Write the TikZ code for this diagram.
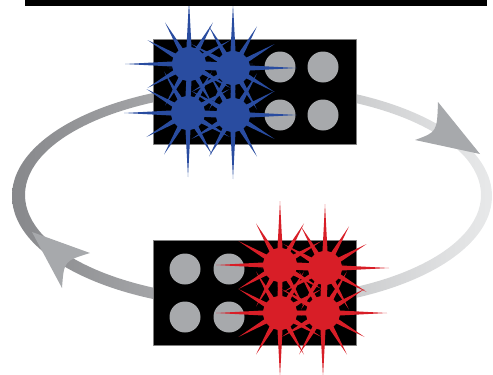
\documentclass[tikz,border=0pt]{standalone}
\usepackage{tikz}
\usetikzlibrary{calc}
\definecolor{burstblue}{RGB}{41,76,160}
\definecolor{burstred}{RGB}{216,30,39}
\definecolor{wellgray}{RGB}{167,169,172}
\definecolor{ringdark}{RGB}{135,136,139}
\definecolor{ringlight}{RGB}{232,233,234}
\definecolor{edgegray}{RGB}{128,128,128}
\tikzset{plate/.style={fill=black,draw=edgegray,line width=0.6pt},
  well/.style={fill=wellgray},
  arrowhead/.style={fill=wellgray}}
\newcommand{\burst}[3]{%
  \fill[#3] (#1,#2) circle (17);
  \foreach \a in {0,30,...,330}{
    \pgfmathsetmacro{\len}{mod(\a,90)==0 ? 64 : 48}
    \fill[#3] ($(#1,#2)+(\a-15:11)$) -- ($(#1,#2)+(\a:\len)$) -- ($(#1,#2)+(\a+15:11)$) -- cycle;
  }}

\begin{document}
\begin{tikzpicture}[line cap=round,line join=round,x=1pt,y=-1pt]
        \useasboundingbox (0,0) rectangle (493,375);
        \shade[left color=ringdark,right color=ringlight,even odd rule] (252,196) ellipse (240 and 113) (253,195) ellipse (228 and 103);
        \fill[arrowhead] (480,154) -- (438,102) .. controls (437,132) .. (415,140) -- cycle;
        \fill[arrowhead] (32,232) -- (90,253) .. controls (64,261) .. (62,288) -- cycle;
        \draw[plate] (153,39) rectangle (356,144);
        \draw[plate] (153,240) rectangle (356,345);
        \fill[well] (280,67) circle (15.5);
        \fill[well] (323,67) circle (15.5);
        \fill[well] (280,115) circle (15.5);
        \fill[well] (323,115) circle (15.5);
        \fill[well] (185,269) circle (15.5);
        \fill[well] (229,269) circle (15.5);
        \fill[well] (185,317) circle (15.5);
        \fill[well] (229,317) circle (15.5);
        \burst{189}{64}{burstblue}
        \burst{233}{68}{burstblue}
        \burst{188}{113}{burstblue}
        \burst{233}{115}{burstblue}
        \burst{280}{265}{burstred}
        \burst{325}{268}{burstred}
        \burst{280}{313}{burstred}
        \burst{323}{313}{burstred}
        \fill (25,0) rectangle (487,5.5);
    \end{tikzpicture}
\end{document}
